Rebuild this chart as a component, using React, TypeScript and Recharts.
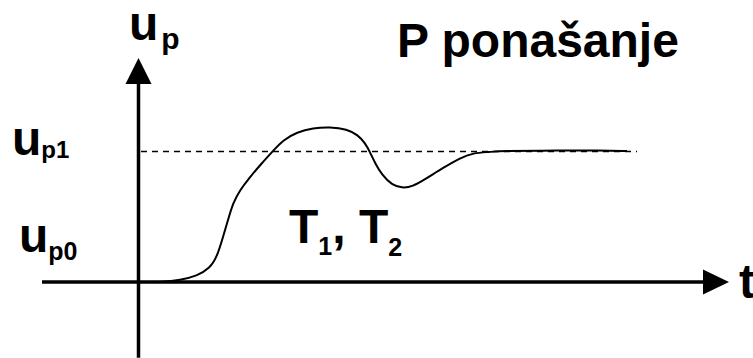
import React from "react";
import { LineChart, Line, XAxis, YAxis, ReferenceLine, ReferenceDot } from "recharts";

// time (arbitrary units) of the step response
const times = [0, 0.49, 0.83, 1.17, 1.43, 1.57, 1.69, 1.79, 1.89, 2.03, 2.23, 2.47, 2.67, 2.89, 3.17, 3.49, 3.83, 4.17, 4.39, 4.53, 4.63, 4.73, 4.87, 5.07, 5.27, 5.47, 5.77, 6.09, 6.43, 6.69, 7.03, 7.23, 8.43, 9.23, 9.77];
// response u_p normalised: u_p0 = 0, u_p1 = 1
const response = [0, 0, 0.015, 0.046, 0.107, 0.192, 0.345, 0.475, 0.605, 0.705, 0.805, 0.912, 0.996, 1.088, 1.149, 1.18, 1.188, 1.172, 1.126, 1.065, 0.996, 0.912, 0.82, 0.743, 0.72, 0.728, 0.797, 0.874, 0.95, 0.989, 0.996, 1.004, 1.008, 1.008, 1.004];

const up0 = 0;
const up1 = 1;
const steadyEnd = 9.97;
const tAxisStart = -1.93;
const tAxisEnd = 11.29;
const tArrowTip = 11.81;
const uAxisBottom = -0.58;
const uAxisEnd = 1.517;
const uArrowTip = 1.716;

const data = times.map((t, i) => ({ t, u: response[i] }));

const FONT = "'Liberation Sans', Arial, sans-serif";

const upArrow = (p: any) => (
  <polygon points={`${p.cx},${p.cy} ${p.cx - 13},${p.cy + 26} ${p.cx + 13},${p.cy + 26}`} fill="#000" />
);
const rightArrow = (p: any) => (
  <polygon points={`${p.cx},${p.cy} ${p.cx - 26},${p.cy - 12.5} ${p.cx - 26},${p.cy + 12.5}`} fill="#000" />
);

const subLabel = (main: string, sub: string, subSize: number, dy: number, dx = 0) => (p: any) => (
  <text x={p.cx} y={p.cy} fontFamily={FONT} fontWeight="bold" fontSize={48} fill="#000">
    {main}
    <tspan fontSize={subSize} dy={dy} dx={dx}>{sub}</tspan>
  </text>
);

const tLabel = (p: any) => (
  <text x={p.cx} y={p.cy} fontFamily={FONT} fontWeight="bold" fontSize={48} fill="#000">
    T<tspan fontSize={25} dy={12}>1</tspan>
    <tspan fontSize={48} dy={-12}>, T</tspan>
    <tspan fontSize={25} dy={13}>2</tspan>
  </text>
);

const plainLabel = (s: string) => (p: any) => (
  <text x={p.cx} y={p.cy} fontFamily={FONT} fontWeight="bold" fontSize={48} fill="#000">{s}</text>
);

export default function App() {
  return (
    <div style={{ position: "absolute", left: 0, top: 0, width: 753, height: 358, background: "#fff" }}>
      <LineChart width={753} height={358} data={data} margin={{ top: 0, right: 0, bottom: 0, left: 0 }}>
        <XAxis dataKey="t" type="number" domain={[-2.77, 12.29]} hide allowDataOverflow />
        <YAxis type="number" domain={[-0.5824, 2.161]} hide allowDataOverflow />
        <ReferenceLine segment={[{ x: 0.05, y: up1 }, { x: steadyEnd, y: up1 }]} stroke="#000" strokeWidth={1.5} strokeDasharray="6 5" />
        <Line dataKey="u" type="basis" stroke="#000" strokeWidth={2} dot={false} activeDot={false} isAnimationActive={false} />
        <ReferenceLine segment={[{ x: tAxisStart, y: up0 }, { x: tAxisEnd, y: up0 }]} stroke="#000" strokeWidth={3.5} />
        <ReferenceLine segment={[{ x: 0, y: uAxisBottom }, { x: 0, y: uAxisEnd }]} stroke="#000" strokeWidth={3.5} />
        <ReferenceDot x={0} y={uArrowTip} shape={upArrow} />
        <ReferenceDot x={tArrowTip} y={up0} shape={rightArrow} />
        <ReferenceDot x={-0.19} y={1.854} shape={subLabel("u", "p", 30, 9, 3)} />
        <ReferenceDot x={-2.53} y={0.973} shape={subLabel("u", "p1", 24, 3)} />
        <ReferenceDot x={-2.39} y={0.23} shape={subLabel("u", "p0", 25, 8)} />
        <ReferenceDot x={3.01} y={0.299} shape={tLabel} />
        <ReferenceDot x={5.17} y={1.724} shape={plainLabel("P ponašanje")} />
        <ReferenceDot x={12.01} y={-0.123} shape={plainLabel("t")} />
      </LineChart>
    </div>
  );
}
